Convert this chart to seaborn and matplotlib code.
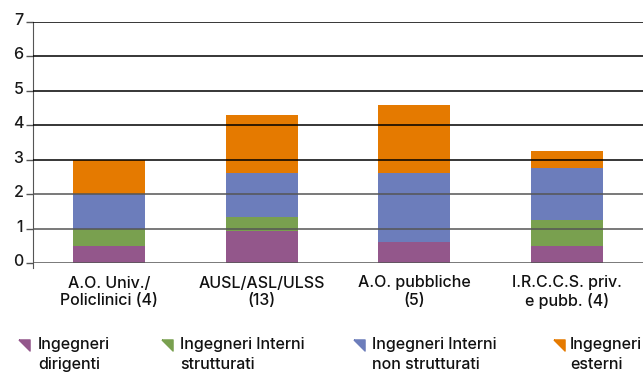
import numpy as np
import matplotlib
matplotlib.use('Agg')
import matplotlib.pyplot as plt
from matplotlib.lines import Line2D
from matplotlib.transforms import ScaledTranslation
import seaborn as sns

# dati
categorie = ['A.O. Univ./\nPoliclinici (4)', 'AUSL/ASL/ULSS\n(13)',
             'A.O. pubbliche\n(5)', 'I.R.C.C.S. priv.\ne pubb. (4)']
dirigenti = [0.5, 0.92, 0.6, 0.5]
interni_strutt = [0.5, 0.42, 0.0, 0.75]
interni_non_strutt = [1.0, 1.28, 2.0, 1.5]
esterni = [1.0, 1.68, 2.0, 0.5]
etichette = ['Ingegneri\ndirigenti', 'Ingegneri Interni\nstrutturati',
             'Ingegneri Interni\nnon strutturati', 'Ingegneri\nesterni']
colori = ['#93578B', '#79A04F', '#6C7DBB', '#E57A00']
y_ticks = [0, 1, 2, 3, 4, 5, 6, 7]

sns.set_style('white')
plt.rcParams['font.family'] = ['Inter', 'DejaVu Sans']
FS = 11.5
PESO = 'medium'

fig = plt.figure(figsize=(6.43, 3.76), dpi=100)
ax = fig.add_axes([33 / 643, 1 - 263 / 376, 610 / 643, 241 / 376])

serie = [dirigenti, interni_strutt, interni_non_strutt, esterni]
cumul = np.cumsum(np.array(serie), axis=0)

# barre sovrapposte: prima il totale, poi i parziali
for i in range(3, -1, -1):
    sns.barplot(x=categorie, y=cumul[i], color=colori[i], saturation=1,
                width=0.47, linewidth=0, ax=ax, zorder=2)

for t in y_ticks:
    ax.axhline(t, color='#000000' if t >= 3 else '#555555', lw=1.1, zorder=3)

ax.set_ylim(0, 7)
ax.set_xlim(-0.5, 3.5)
ax.set_yticks(y_ticks)
ax.set_yticklabels([str(t) for t in y_ticks], fontsize=FS, fontweight=PESO,
                   color='#1a1a1a')
ax.tick_params(axis='y', length=5, width=1, color='#555555', pad=2, left=True)
ax.tick_params(axis='x', length=0, pad=9)
for lbl in ax.get_yticklabels():
    lbl.set_transform(lbl.get_transform() + ScaledTranslation(0, 3 / 100, fig.dpi_scale_trans))
for lbl in ax.get_xticklabels():
    lbl.set_fontsize(FS)
    lbl.set_fontweight(PESO)
    lbl.set_color('#111111')
    lbl.set_linespacing(1.18)
for s in ['top', 'right', 'bottom']:
    ax.spines[s].set_visible(False)
ax.spines['left'].set_color('#555555')
ax.spines['left'].set_bounds(-0.15, 7)
ax.set_xlabel('')
ax.set_ylabel('')

# legenda disegnata a mano
tri = [(-1, 1), (1, 1), (1, -1), (-1, 1)]
x_mark = [24, 167, 359, 559]
x_testo = [38, 180, 372, 570]
for c, et, xm, xt in zip(colori, etichette, x_mark, x_testo):
    fig.add_artist(Line2D([xm / 643], [1 - 345 / 376], marker=tri, color=c,
                          markersize=8, linestyle='None',
                          transform=fig.transFigure))
    fig.text(xt / 643, 1 - 337 / 376, et, ha='left', va='top', fontsize=FS,
             fontweight=PESO, color='#111111', linespacing=1.38)

fig.savefig('out.png', dpi=100)
